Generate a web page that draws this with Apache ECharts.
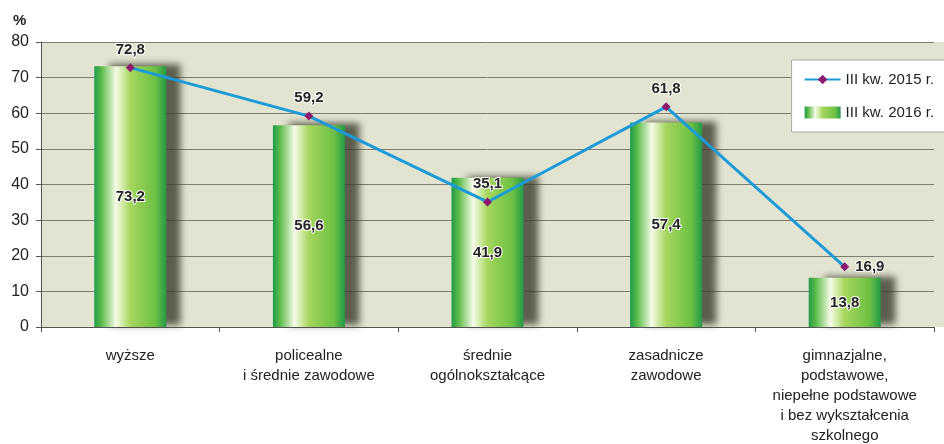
<!DOCTYPE html>
<html><head><meta charset="utf-8">
<script src="https://cdn.jsdelivr.net/npm/echarts@6/dist/echarts.min.js"></script>
<style>html,body{margin:0;padding:0;background:#fff}#c{width:944px;height:444px}</style>
</head><body><div id="c"></div>
<script>
var categories = ['wyższe', 'policealne\ni średnie zawodowe', 'średnie\nogólnokształcące', 'zasadnicze\nzawodowe', 'gimnazjalne,\npodstawowe,\nniepełne podstawowe\ni bez wykształcenia\nszkolnego'];
var values2015 = [72.8, 59.2, 35.1, 61.8, 16.9];
var values2016 = [73.2, 56.6, 41.9, 57.4, 13.8];
var yTicks = [0, 10, 20, 30, 40, 50, 60, 70, 80];
var seriesNames = ['III kw. 2015 r.', 'III kw. 2016 r.'];

function fmt(v){ return String(v.toFixed(1)).replace('.', ','); }
var font = 'Liberation Sans, Arial, sans-serif';
var barGrad = new echarts.graphic.LinearGradient(0, 0, 1, 0, [
  {offset: 0, color: '#1f9a48'},
  {offset: 0.1, color: '#5cbc4a'},
  {offset: 0.3, color: '#f6fbe6'},
  {offset: 0.5, color: '#a6d65e'},
  {offset: 0.85, color: '#6cc043'},
  {offset: 1, color: '#239a48'}
]);
var chart = echarts.init(document.getElementById('c'));
chart.setOption({
  animation: false,
  textStyle: {fontFamily: font},
  grid: {left: 41, right: 10, top: 42, bottom: 117, outerBoundsMode: 'none', containLabel: false,
    backgroundColor: '#e3e3d1', show: true, borderWidth: 0},
  graphic: [
    {type: 'rect', left: 934, top: 42, z: -1, shape: {width: 10, height: 285}, style: {fill: '#e3e3d1'}},
    {type: 'text', left: 13, top: 13, style: {text: '%', font: 'bold 15px ' + font, fill: '#222'}}
  ],
  legend: {
    right: -4, top: 60, orient: 'vertical', itemGap: 18, itemWidth: 36, itemHeight: 12,
    backgroundColor: '#fff', borderColor: '#aaa', borderWidth: 1, padding: [12, 14, 12, 12],
    textStyle: {fontSize: 15, color: '#222', fontFamily: font},
    data: [{name: seriesNames[0]}, {name: seriesNames[1], icon: 'rect'}]
  },
  xAxis: {
    type: 'category', data: categories,
    axisLine: {lineStyle: {color: '#555'}},
    axisTick: {show: true, length: 5, lineStyle: {color: '#555'}},
    axisLabel: {color: '#222', fontSize: 15, margin: 19, lineHeight: 20, interval: 0, fontFamily: font}
  },
  yAxis: {
    type: 'value', min: yTicks[0], max: yTicks[yTicks.length - 1], interval: 10,
    axisLine: {show: true, lineStyle: {color: '#555'}},
    axisTick: {show: true, length: 5, lineStyle: {color: '#555'}},
    axisLabel: {color: '#222', fontSize: 16, margin: 12, fontFamily: font},
    splitLine: {lineStyle: {color: '#7d7d70', width: 1}}
  },
  series: [
    {
      name: seriesNames[1], type: 'bar', data: values2016, barWidth: 72, z: 2,
      itemStyle: {color: barGrad, shadowColor: 'rgba(60,60,45,0.8)', shadowBlur: 7, shadowOffsetX: 15, shadowOffsetY: -2},
      label: {show: true, position: 'inside', formatter: function(p){return fmt(p.value);},
        color: '#222', fontSize: 15, fontWeight: 'bold', textBorderColor: '#fff', textBorderWidth: 2, fontFamily: font}
    },
    {
      name: seriesNames[0], type: 'line', z: 5,
      data: values2015.map(function(v, i){
        return i === values2015.length - 1 ? {value: v, label: {position: 'right', distance: 6}} : v;
      }),
      lineStyle: {color: '#1d9ad8', width: 3},
      itemStyle: {color: '#8b1a6e'},
      symbol: 'diamond', symbolSize: 9,
      label: {show: true, position: 'top', distance: 6, formatter: function(p){return fmt(p.value);},
        color: '#222', fontSize: 15, fontWeight: 'bold', textBorderColor: '#fff', textBorderWidth: 2, fontFamily: font}
    }
  ]
});
</script></body></html>
